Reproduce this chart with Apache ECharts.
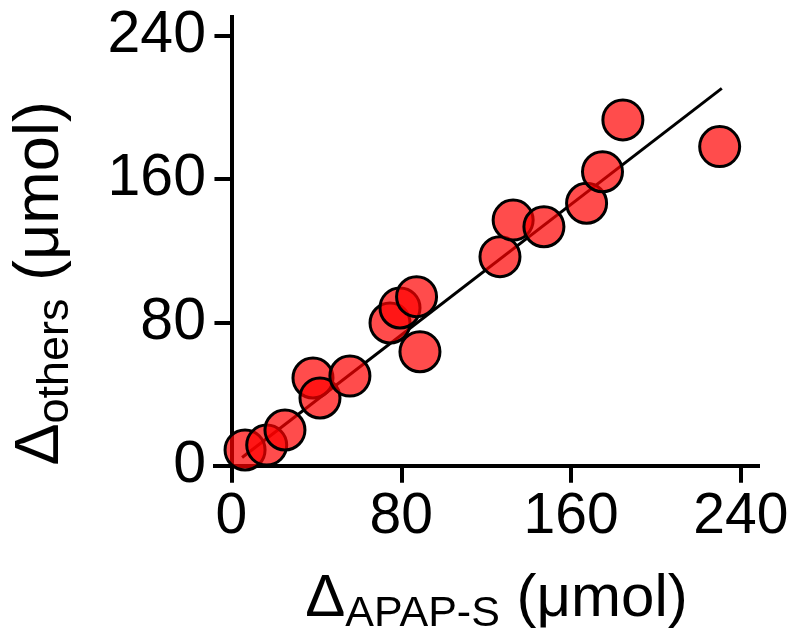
<!DOCTYPE html>
<html>
<head>
<meta charset="utf-8">
<script src="https://cdn.jsdelivr.net/npm/echarts@6/dist/echarts.min.js"></script>
<style>
html,body{margin:0;padding:0;background:#fff;}
#c{width:803px;height:637px;}
</style>
</head>
<body>
<div id="c"></div>
<script>
const apapS = [6.4, 16.6, 25.2, 38.4, 41.7, 55.8, 74.7, 79.4, 87.2, 88.8, 126.5, 132.7, 147.2, 167.3, 174.8, 184.4, 230.0];
const others = [8.8, 11.5, 19.9, 48.9, 37.8, 50.0, 79.6, 88.0, 94.3, 63.6, 116.6, 137.0, 133.3, 146.4, 164.0, 192.9, 178.0];
const fitX = [5, 231];
const fitY = [4.6, 210.5];
const tickValues = [0, 80, 160, 240];

const chart = echarts.init(document.getElementById('c'));
const font = 'Liberation Sans';
chart.setOption({
  animation: false,
  backgroundColor: '#fff',
  grid: {left: 213, right: 43, top: 15, bottom: 171.3, containLabel: false, outerBoundsMode: 'none'},
  xAxis: {
    type: 'value', min: -8.7, max: 249,
    axisLine: {onZero: true, lineStyle: {color: '#000', width: 4, cap: 'butt'}},
    axisTick: {show: true, customValues: tickValues, length: 17, lineStyle: {color: '#000', width: 4}},
    axisLabel: {customValues: tickValues, color: '#000', fontFamily: font, fontSize: 57, margin: 23},
    splitLine: {show: false},
    name: '{d|Δ}{s|APAP-S}{u| (μmol)}',
    nameLocation: 'middle', nameGap: 97,
    nameTextStyle: {
      padding: [0, 0, 0, 20],
      rich: {
        d: {fontFamily: font, fontSize: 60, color: '#000'},
        s: {fontFamily: font, fontSize: 43, color: '#000', verticalAlign: 'bottom', padding: [30, 0, 0, 0]},
        u: {fontFamily: font, fontSize: 60, color: '#000'}
      }
    }
  },
  yAxis: {
    type: 'value', min: 0, max: 251.4,
    axisLine: {onZero: true, lineStyle: {color: '#000', width: 4, cap: 'butt'}},
    axisTick: {show: true, customValues: tickValues, length: 17, lineStyle: {color: '#000', width: 4}},
    axisLabel: {customValues: tickValues, color: '#000', fontFamily: font, fontSize: 59, margin: 7},
    splitLine: {show: false},
    name: '{d|Δ}{s|others}{u| (μmol)}',
    nameLocation: 'middle', nameGap: 135,
    nameTextStyle: {
      padding: [0, 86, 0, 0],
      rich: {
        d: {fontFamily: font, fontSize: 63, color: '#000'},
        s: {fontFamily: font, fontSize: 45, color: '#000', verticalAlign: 'bottom', padding: [30, 0, 0, 0]},
        u: {fontFamily: font, fontSize: 63, color: '#000'}
      }
    }
  },
  series: [
    {
      type: 'line', z: 1,
      data: fitX.map((x, i) => [x, fitY[i]]),
      showSymbol: false, symbol: 'none',
      lineStyle: {color: '#000', width: 3},
      silent: true
    },
    {
      type: 'scatter', z: 2,
      data: apapS.map((x, i) => [x, others[i]]),
      symbol: 'circle', symbolSize: 40,
      itemStyle: {color: 'rgba(255,0,0,0.7)', borderColor: '#000', borderWidth: 3, opacity: 1}
    }
  ]
});
</script>
</body>
</html>
